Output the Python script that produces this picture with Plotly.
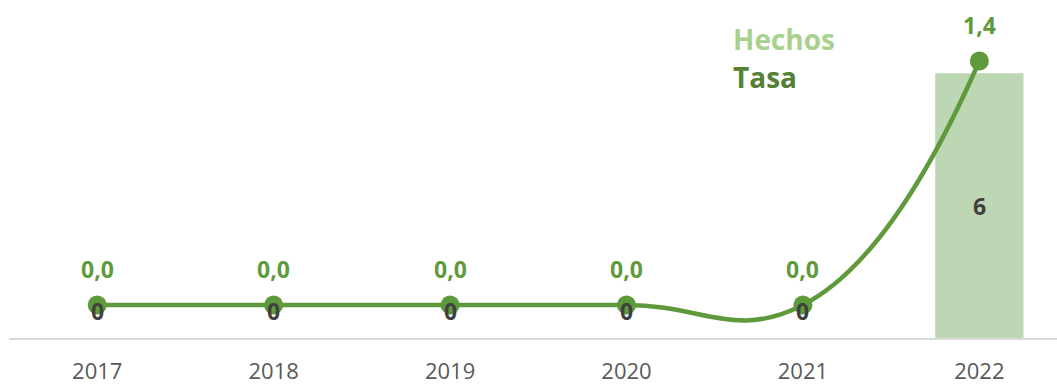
import plotly.graph_objects as go

years = ["2017", "2018", "2019", "2020", "2021", "2022"]
hechos = [0, 0, 0, 0, 0, 6]
tasa = [0.0, 0.0, 0.0, 0.0, 0.0, 1.4]

BAR_COLOR = "#bdd7b4"
LINE_COLOR = "#5e9a3c"
LEGEND_LIGHT = "#a9d18e"
LEGEND_DARK = "#548235"
LABEL_DARK = "#404040"
FONT = "Open Sans"

fig = go.Figure()

fig.add_trace(go.Bar(
    x=years, y=hechos, name="Hechos",
    marker=dict(color=BAR_COLOR, line=dict(width=0)),
    width=0.5, yaxis="y", hoverinfo="skip",
))

fig.add_trace(go.Scatter(
    x=years, y=tasa, name="Tasa", yaxis="y2",
    mode="lines+markers",
    line=dict(color=LINE_COLOR, width=4.5, shape="spline", smoothing=1.3),
    marker=dict(color=LINE_COLOR, size=19),
    hoverinfo="skip",
))

annotations = []
# Hechos values (centred in bar; zero-height bars get their label lifted).
# Category axes place annotations by serial index.
for i, h in enumerate(hechos):
    annotations.append(dict(
        x=i, y=h / 2, xref="x", yref="y", text=f"<b>{h}</b>",
        showarrow=False, yshift=0 if h else 27,
        font=dict(family=FONT, size=23, color=LABEL_DARK),
    ))
# Tasa values above each point
for i, t in enumerate(tasa):
    annotations.append(dict(
        x=i, y=t, xref="x", yref="y2",
        text="<b>" + f"{t:.1f}".replace(".", ",") + "</b>",
        showarrow=False, yshift=36,
        font=dict(family=FONT, size=23, color=LINE_COLOR),
    ))
# Series key
annotations.append(dict(x=0.6885, y=0.885, xref="paper", yref="paper",
                        text="<b>Hechos</b>", showarrow=False,
                        xanchor="left", yanchor="middle",
                        font=dict(family=FONT, size=28, color=LEGEND_LIGHT)))
annotations.append(dict(x=0.6885, y=0.772, xref="paper", yref="paper",
                        text="<b>Tasa</b>", showarrow=False,
                        xanchor="left", yanchor="middle",
                        font=dict(family=FONT, size=28, color=LEGEND_DARK)))

hidden = dict(showgrid=False, zeroline=False, showline=False,
              showticklabels=False, ticks="")

fig.update_layout(
    width=1057, height=385,
    margin=dict(l=9, r=0, t=0, b=44),
    paper_bgcolor="white", plot_bgcolor="white",
    showlegend=False,
    font=dict(family=FONT),
    xaxis=dict(
        type="category", range=[-0.5, 5.44],
        showgrid=False, zeroline=False,
        showline=True, linecolor="#d9d9d9", linewidth=2,
        ticks="", ticklabelstandoff=13,
        tickfont=dict(family=FONT, size=22, color="#595959"),
    ),
    yaxis=dict(range=[0, 7.66], **hidden),
    yaxis2=dict(range=[-0.19, 1.75], overlaying="y", side="right", **hidden),
    annotations=annotations,
)

fig.write_html("out.html")
